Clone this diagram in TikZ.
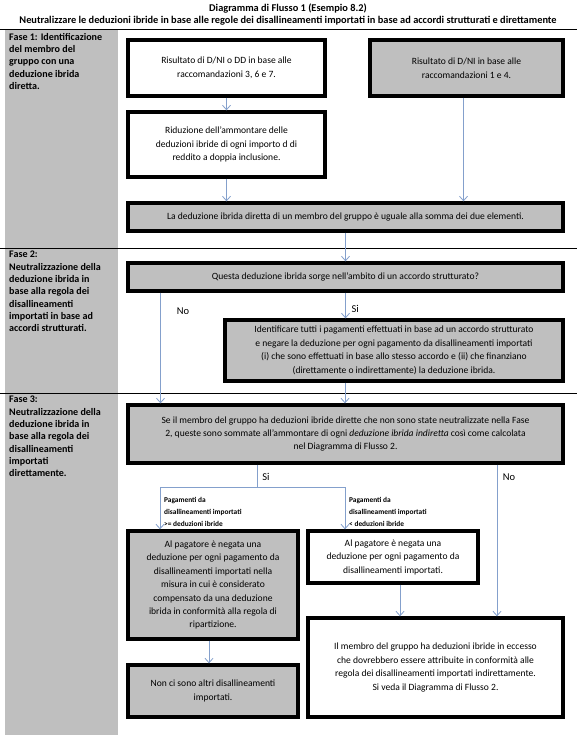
\documentclass[tikz,border=0pt]{standalone}
\usepackage{fontspec}
\setmainfont{Carlito}
\usetikzlibrary{arrows.meta}
\definecolor{boxgray}{RGB}{191,191,191}
\definecolor{flowblue}{RGB}{132,160,204}
\begin{document}
\begin{tikzpicture}[x=1bp, y=-1bp,
        every node/.style={font=\fontsize{9.6}{13.5}\selectfont},
        stepbox/.style={draw, line width=3.3bp, align=center, inner sep=2bp},
        graybox/.style={stepbox, fill=boxgray},
        flow/.style={draw=flowblue, line width=0.8bp, -{Straight Barb[length=4.5bp,width=8bp]}},
        link/.style={draw=flowblue, line width=0.8bp},
        phase/.style={anchor=north west, align=left, inner sep=0pt, font=\fontsize{10.1}{12.4}\selectfont\bfseries},
        answer/.style={font=\fontsize{10.5}{12}\selectfont},
        cond/.style={anchor=north west, align=left, inner sep=0pt, font=\fontsize{7.4}{12.2}\selectfont\bfseries},
        head/.style={font=\fontsize{10.4}{12}\selectfont\bfseries}]
        \useasboundingbox (0,0) rectangle (577,747);
        % intestazione
        \node[head] (title) at (288,9) {Diagramma di Flusso 1 (Esempio 8.2)};
        \node[head] (subtitle) at (288,21) {Neutralizzare le deduzioni ibride in base alle regole dei disallineamenti importati in base ad accordi strutturati e direttamente};
        \fill[boxgray] (5,30) rectangle (118,735);
        \draw[line width=1bp] (0,30)--(577,30);
        \draw[line width=0.8bp] (0,248)--(577,248);
        \draw[line width=0.8bp] (0,393)--(577,393);
        % colonna delle fasi
        \node[phase] (fase1) at (9,33) {Fase 1: Identificazione\\del membro del\\gruppo con una\\deduzione ibrida\\diretta.};
        \node[phase] (fase2) at (9,251) {Fase 2:\\Neutralizzazione della\\deduzione ibrida in\\base alla regola dei\\disallineamenti\\importati in base ad\\accordi strutturati.};
        \node[phase] (fase3) at (9,396) {Fase 3:\\Neutralizzazione della\\deduzione ibrida in\\base alla regola dei\\disallineamenti\\importati\\direttamente.};
        % fase 1
        \node[stepbox, minimum width=197bp, minimum height=56bp] (risA) at (226.5,68) {Risultato di D/NI o DD in base alle\\raccomandazioni 3, 6 e 7.};
        \node[graybox, minimum width=193bp, minimum height=56bp] (risB) at (466.5,68) {Risultato di D/NI in base alle\\raccomandazioni 1 e 4.};
        \node[stepbox, minimum width=197bp, minimum height=65bp] (riduz) at (226.5,144.5) {Riduzione dell’ammontare delle\\deduzioni ibride di ogni importo d di\\reddito a doppia inclusione.};
        \node[graybox, minimum width=435bp, minimum height=28bp] (somma) at (345.5,217) {La deduzione ibrida diretta di un membro del gruppo è uguale alla somma dei due elementi.};
        \draw[flow] (risA.south) -- (riduz.north);
        \draw[flow] (riduz.south) -- (riduz.south |- somma.north);
        \draw[flow] ([xshift=-3bp]risB.south) -- ([xshift=-3bp]risB.south |- somma.north);
        % fase 2
        \node[graybox, minimum width=435bp, minimum height=28bp] (domanda) at (345.5,277) {Questa deduzione ibrida sorge nell’ambito di un accordo strutturato?};
        \node[graybox, minimum width=338bp, minimum height=61bp] (identif) at (394,350.5) {Identificare tutti i pagamenti effettuati in base ad un accordo strutturato\\e negare la deduzione per ogni pagamento da disallineamenti importati\\(i) che sono effettuati in base allo stesso accordo e (ii) che finanziano\\(direttamente o indirettamente) la deduzione ibrida.};
        \draw[flow] (somma.south) -- (domanda.north);
        \draw[flow] (domanda.south) -- (domanda.south |- identif.north);
        \node[answer] (no1) at (183,311) {No};
        \node[answer, anchor=west] (si1) at (348,309) {Si};
        % fase 3
        \node[graybox, minimum width=435bp, minimum height=58bp] (somma3) at (345.5,434) {Se il membro del gruppo ha deduzioni ibride dirette che non sono state neutralizzate nella Fase\\2, queste sono sommate all’ammontare di ogni \textit{deduzione ibrida indiretta} così come calcolata\\nel Diagramma di Flusso 2.};
        \draw[flow] ([xshift=-185bp]domanda.south) -- ([xshift=-185bp]domanda.south |- somma3.north);
        \draw[flow] ([xshift=-49bp]identif.south) -- ([xshift=-49bp]identif.south |- somma3.north);
        \node[graybox, minimum width=170bp, minimum height=108bp] (negata) at (213,585) {Al pagatore è negata una\\deduzione per ogni pagamento da\\disallineamenti importati nella\\misura in cui è considerato\\compensato da una deduzione\\ibrida in conformità alla regola di\\ripartizione.};
        \node[stepbox, minimum width=170bp, minimum height=52bp] (negataB) at (393,557) {Al pagatore è negata una\\deduzione per ogni pagamento da\\disallineamenti importati.};
        \node[stepbox, minimum width=255bp, minimum height=99bp] (eccesso) at (435.5,667.5) {Il membro del gruppo ha deduzioni ibride in eccesso\\che dovrebbero essere attribuite in conformità alle\\regola dei disallineamenti importati indirettamente.\\Si veda il Diagramma di Flusso 2.};
        \node[graybox, minimum width=170bp, minimum height=52bp] (altri) at (213,691) {Non ci sono altri disallineamenti\\importati.};
        \coordinate (bivio) at (257,487);
        \coordinate (bivioL) at (160,487);
        \coordinate (bivioR) at (345,487);
        \coordinate (noG) at (497,487);
        \draw[link] (somma3.south -| bivio) -- (bivio);
        \draw[link] (bivioL) -- (bivioR);
        \draw[flow] (bivioL) -- (bivioL |- negata.north);
        \draw[flow] (bivioR) -- (bivioR |- negataB.north);
        \draw[flow] (somma3.south -| noG) -- (noG |- eccesso.north);
        \draw[flow] ([xshift=7bp]negataB.south) -- ([xshift=7bp]negataB.south |- eccesso.north);
        \draw[flow] ([xshift=-4bp]negata.south) -- ([xshift=-4bp]negata.south |- altri.north);
        \node[answer] (si2) at (266,477) {Si};
        \node[answer] (no2) at (509,477) {No};
        \node[cond] (piu) at (164,497) {Pagamenti da\\disallineamenti importati\\>= deduzioni ibride};
        \node[cond] (meno) at (349,497) {Pagamenti da\\disallineamenti importati\\< deduzioni ibride};
    \end{tikzpicture}
\end{document}
